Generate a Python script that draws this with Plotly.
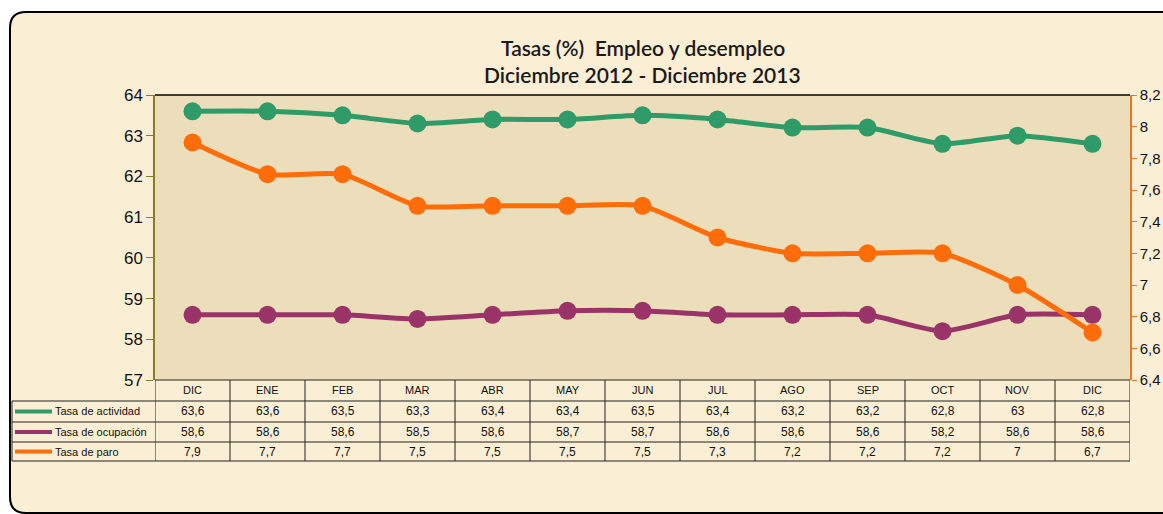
import plotly.graph_objects as go

meses = ["DIC", "ENE", "FEB", "MAR", "ABR", "MAY", "JUN", "JUL", "AGO", "SEP", "OCT", "NOV", "DIC"]
actividad = [63.6, 63.6, 63.5, 63.3, 63.4, 63.4, 63.5, 63.4, 63.2, 63.2, 62.8, 63, 62.8]
ocupacion = [58.6, 58.6, 58.6, 58.5, 58.6, 58.7, 58.7, 58.6, 58.6, 58.6, 58.2, 58.6, 58.6]
paro = [7.9, 7.7, 7.7, 7.5, 7.5, 7.5, 7.5, 7.3, 7.2, 7.2, 7.2, 7, 6.7]
nombres = ["Tasa de actividad", "Tasa de ocupación", "Tasa de paro"]
colores = ["#2E9B68", "#9A3468", "#FF6C0A"]

W, H = 1163, 514
L, R, T, B = 155, 1130, 95, 380
PW, PH = R - L, B - T


def px(x):
    return (x - L) / PW


def py(y):
    return (B - y) / PH


x = list(range(len(meses)))
fig = go.Figure()
for vals, nm, c, ax in zip([actividad, ocupacion, paro], nombres, colores, ["y", "y", "y2"]):
    fig.add_trace(go.Scatter(x=x, y=vals, mode="lines+markers",
                             line=dict(color=c, width=5, shape="spline", smoothing=0.6),
                             marker=dict(size=18, color=c), name=nm, yaxis=ax))

shapes = []
# outer rounded frame (open on the right, cut by the image edge)
fx0, fy0, fx1, fy1, r = 10, 12, W + 5, 513, 16
path = (f"M {px(fx1)},{py(fy0)} L {px(fx0 + r)},{py(fy0)} Q {px(fx0)},{py(fy0)} {px(fx0)},{py(fy0 + r)} "
        f"L {px(fx0)},{py(fy1 - r)} Q {px(fx0)},{py(fy1)} {px(fx0 + r)},{py(fy1)} L {px(fx1)},{py(fy1)}")
shapes.append(dict(type="path", path=path, xref="paper", yref="paper", fillcolor="#FAEED4",
                   line=dict(color="black", width=2), layer="below"))
# plot area background
shapes.append(dict(type="rect", xref="paper", yref="paper", x0=0, x1=1, y0=0, y1=1,
                   fillcolor="#ECDDBB", line=dict(width=0), layer="below"))
# top border of plot
shapes.append(dict(type="line", xref="paper", yref="paper", x0=0, x1=1, y0=1, y1=1,
                   line=dict(color="black", width=1.5)))

# table
row_y = [380, 401, 422, 442, 461]
tl = 12
for i, yy in enumerate(row_y):
    x0 = 0 if i == 0 else px(tl)
    shapes.append(dict(type="line", xref="paper", yref="paper", x0=x0, x1=1, y0=py(yy), y1=py(yy),
                       line=dict(color="#222", width=1)))
for k in range(len(meses) + 1):
    shapes.append(dict(type="line", xref="x", yref="paper", x0=k - 0.5, x1=k - 0.5, y0=py(380), y1=py(461),
                       line=dict(color="#222", width=1)))
shapes.append(dict(type="line", xref="paper", yref="paper", x0=px(tl), x1=px(tl), y0=py(401), y1=py(461),
                   line=dict(color="#222", width=1)))

annotations = []
tfont = dict(family="Liberation Sans, Arial", size=11, color="#111")
for k, m in enumerate(meses):
    annotations.append(dict(x=k, y=py((380 + 401) / 2), xref="x", yref="paper", text=m, showarrow=False,
                            font=tfont, xanchor="center", yanchor="middle"))


def fmt(v):
    return f"{v:g}".replace(".", ",")


series = [actividad, ocupacion, paro]
for i, (vals, nm, c) in enumerate(zip(series, nombres, colores)):
    ymid = (row_y[i + 1] + row_y[i + 2]) / 2
    for k, v in enumerate(vals):
        annotations.append(dict(x=k, y=py(ymid), xref="x", yref="paper", text=fmt(v), showarrow=False,
                                font=dict(family="Liberation Sans, Arial", size=12, color="#111"),
                                xanchor="center", yanchor="middle"))
    shapes.append(dict(type="line", xref="paper", yref="paper", x0=px(15), x1=px(52), y0=py(ymid), y1=py(ymid),
                       line=dict(color=c, width=4)))
    annotations.append(dict(x=px(53), y=py(ymid), xref="paper", yref="paper", text=nm, showarrow=False,
                            font=dict(family="Liberation Sans, Arial", size=11, color="#111"),
                            xanchor="left", yanchor="middle"))

for txt, yy in [("Tasas (%)  Empleo y desempleo", 48), ("Diciembre 2012 - Diciembre 2013", 74)]:
    annotations.append(dict(x=0.5, y=py(yy), xref="paper", yref="paper", text=txt, showarrow=False,
                            font=dict(family="Lato, Open Sans", size=21, color="#1a1a1a", weight=600),
                            xanchor="center", yanchor="middle"))

fig.update_layout(
    width=W, height=H,
    margin=dict(l=L, r=W - R, t=T, b=H - B, pad=0, autoexpand=False),
    paper_bgcolor="white", plot_bgcolor="rgba(0,0,0,0)",
    showlegend=False, separators=",.",
    shapes=shapes, annotations=annotations,
    xaxis=dict(range=[-0.5, 12.5], showticklabels=False, showgrid=False, zeroline=False, showline=False, ticks="",
               automargin=False),
    yaxis=dict(range=[57, 64], dtick=1, showgrid=False, zeroline=False, showline=True, linecolor="#8A7F1E",
               linewidth=1.5, ticks="outside", ticklen=7, tickcolor="#8A7F1E", automargin=False,
               tickfont=dict(family="Liberation Sans, Arial", size=17, color="#111")),
    yaxis2=dict(range=[6.4, 8.2], dtick=0.2, overlaying="y", side="right", showgrid=False, zeroline=False,
                showline=True, linecolor="#E8762A", linewidth=1.5, ticks="outside", ticklen=5, tickcolor="#E8762A",
                automargin=False,
                tickfont=dict(family="Liberation Sans, Arial", size=15, color="#111")),
)
fig.write_html(
    "out.html",
    config={"displayModeBar": False},
    post_script=("document.documentElement.style.overflow='hidden';"
                 "document.body.style.margin='0';document.body.style.overflow='hidden';"
                 "var d=document.getElementById('{plot_id}');d.style.overflow='hidden';"
                 "d.style.width='1163px';d.style.height='514px';"),
)
